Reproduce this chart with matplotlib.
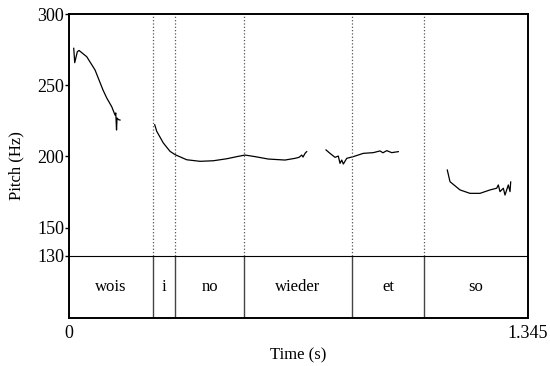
import matplotlib
matplotlib.use("Agg")
import matplotlib.pyplot as plt

plt.rcParams['font.family'] = ['Liberation Serif', 'DejaVu Serif']

# pitch contour pieces (time in s, pitch in Hz)
t1 = [0.0138, 0.0167, 0.0243, 0.0293, 0.0519, 0.0762, 0.0996, 0.1105, 0.1251, 0.1348, 0.1370, 0.1392, 0.1407, 0.1450, 0.1494]
f1 = [275.9, 265.8, 273.5, 274.4, 270.0, 260.7, 246.6, 241.0, 234.9, 229.0, 230.5, 218.5, 226.9, 225.8, 225.5]

t2 = [0.2511, 0.2570, 0.2763, 0.2960, 0.3106, 0.3449, 0.3839, 0.4228, 0.4621, 0.4961, 0.5157,
      0.5450, 0.5840, 0.6329, 0.6622, 0.6740, 0.6819, 0.6857, 0.6916, 0.6965]
f2 = [222.2, 217.6, 209.4, 203.5, 201.2, 197.6, 196.5, 196.9, 198.3, 200.0, 200.9,
      199.8, 198.1, 197.4, 198.6, 199.3, 200.9, 199.5, 202.1, 203.3]

t3 = [0.7531, 0.7648, 0.7795, 0.7891, 0.7941, 0.7991, 0.8038, 0.8138, 0.8331, 0.8624, 0.8917,
      0.9113, 0.9200, 0.9310, 0.9456, 0.9650]
f3 = [204.5, 202.1, 199.3, 200.2, 195.1, 197.4, 194.6, 198.6, 199.8, 202.1, 202.6,
      203.8, 202.5, 204.0, 202.6, 203.3]

t4 = [1.1085, 1.1164, 1.1458, 1.1750, 1.2044, 1.2337, 1.2533, 1.2580, 1.2630, 1.2727, 1.2776,
      1.2873, 1.2923, 1.2943]
f4 = [190.4, 182.2, 176.4, 174.0, 174.0, 176.4, 177.6, 179.9, 175.2, 177.6, 172.8,
      179.9, 175.2, 182.0]

# word tier
boundaries = [0.246, 0.311, 0.513, 0.829, 1.040]
words = ['wois', 'i', 'no', 'wieder', 'et', 'so']
t_end = 1.345

y_ticks = [130, 150, 200, 250, 300]
tier_bottom = 86.4

fig = plt.figure(figsize=(5.5, 3.66), dpi=100)
ax = fig.add_axes([0.1255, 0.1311, 0.8345, 0.8306])

for t, f in [(t1, f1), (t2, f2), (t3, f3), (t4, f4)]:
    ax.plot(t, f, color='black', linewidth=0.9)

# dotted lines above the tier, solid inside it
for b in boundaries:
    ax.plot([b, b], [130, 300], color='#555555', linestyle=':', linewidth=0.9)
    ax.plot([b, b], [tier_bottom, 130], color='#444444', linewidth=1.0)
ax.axhline(130, color='black', linewidth=0.8)

edges = [0] + boundaries + [t_end]
for i in range(len(words)):
    ax.text((edges[i] + edges[i + 1]) / 2, (130 + tier_bottom) / 2, words[i],
            ha='center', va='center', fontsize=12)

ax.set_xlim(0, t_end)
ax.set_ylim(tier_bottom, 300)
ax.set_yticks(y_ticks)
ax.set_yticklabels([str(v) for v in y_ticks])
ax.set_xticks([0, t_end])
ax.set_xticklabels(['0', '1.345'])
ax.tick_params(axis='y', length=3, width=1, labelsize=13, pad=0.5)
ax.tick_params(axis='x', length=0, labelsize=13, pad=5)
for s in ax.spines.values():
    s.set_linewidth(1.4)

ax.set_ylabel('Pitch (Hz)', fontsize=12, labelpad=9)
ax.set_xlabel('Time (s)', fontsize=12, labelpad=4)

fig.savefig('out.png', dpi=100)
